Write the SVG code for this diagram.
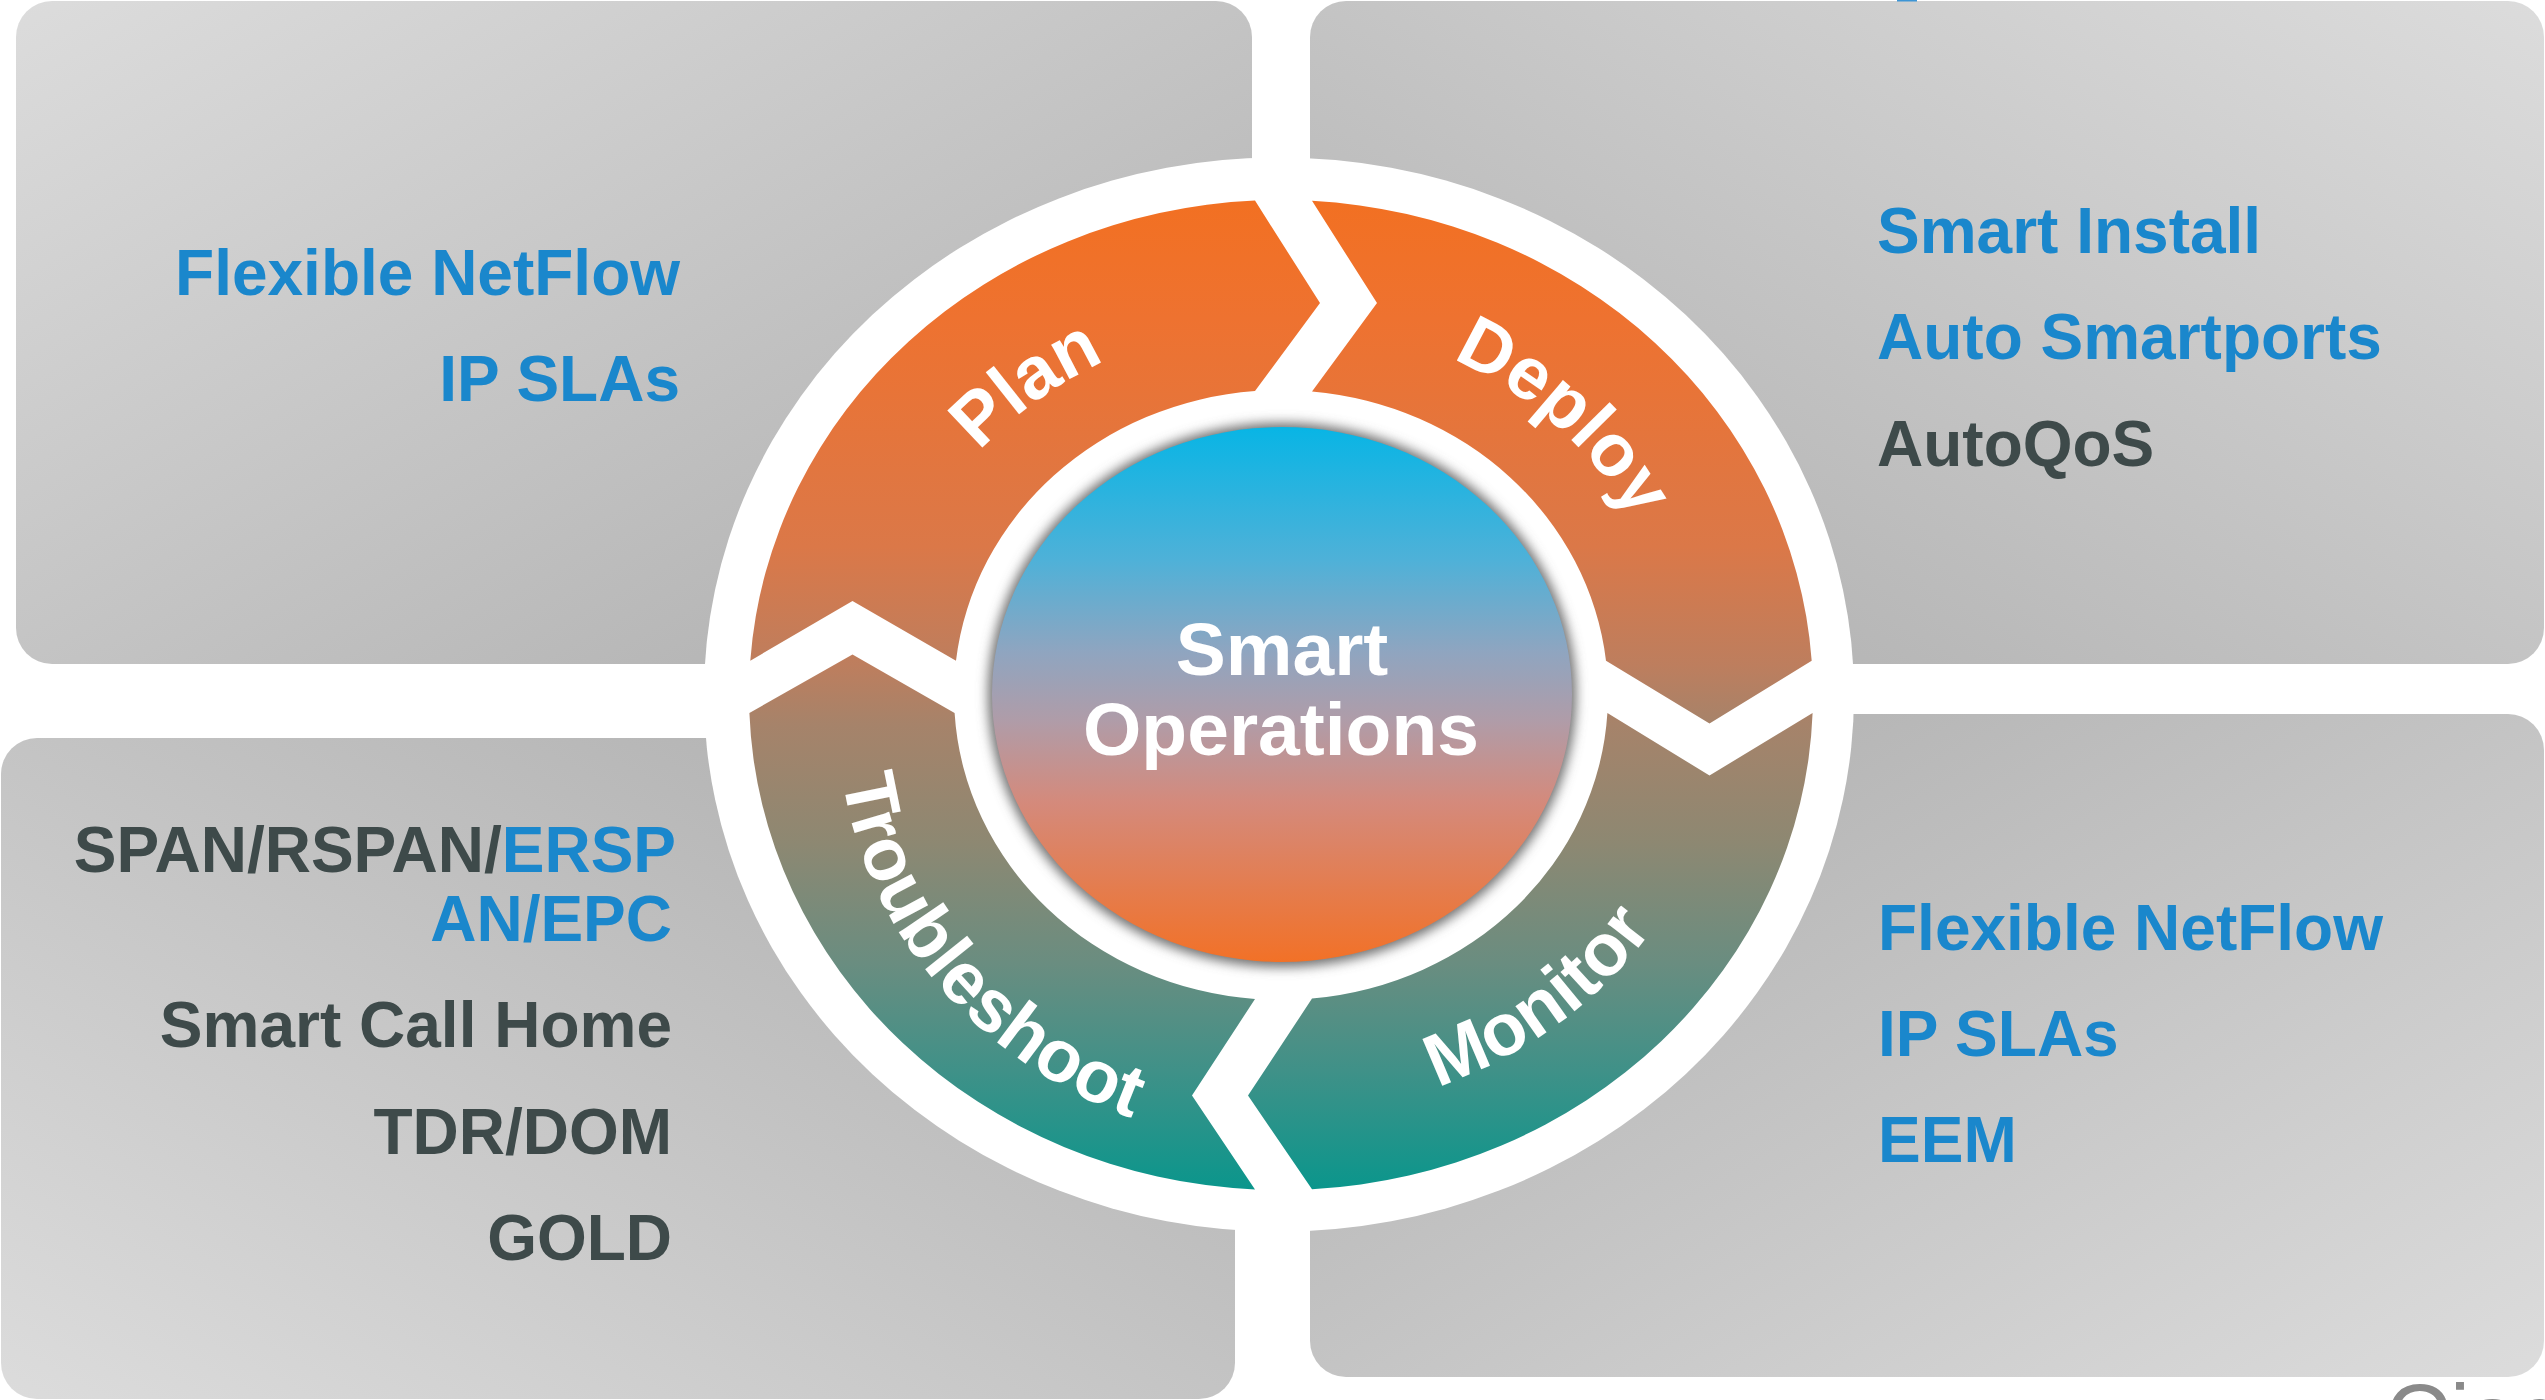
<svg xmlns="http://www.w3.org/2000/svg" width="2545" height="1400" viewBox="0 0 2545 1400">
  <style>
    .item { font-family: "Liberation Sans", Arial, sans-serif; font-weight: bold; font-size: 64px; }
    .blue { fill: #1a87cc; }
    .dark { fill: #3e4a4a; }
    .ring-label { font-family: "Liberation Sans", Arial, sans-serif; font-weight: bold; font-size: 74px; fill: #ffffff; }
    .hub-label { font-family: "Liberation Sans", Arial, sans-serif; font-weight: bold; font-size: 75px; fill: #ffffff; text-anchor: middle; }
  </style>
  <defs>
    <linearGradient id="panelTL" x1="0" y1="0" x2="1" y2="1">
      <stop offset="0" stop-color="#dcdcdc"/>
      <stop offset="1" stop-color="#acacac"/>
    </linearGradient>
    <linearGradient id="panelTR" x1="1" y1="0" x2="0" y2="1">
      <stop offset="0" stop-color="#dcdcdc"/>
      <stop offset="1" stop-color="#acacac"/>
    </linearGradient>
    <linearGradient id="panelBL" x1="0" y1="1" x2="1" y2="0">
      <stop offset="0" stop-color="#dcdcdc"/>
      <stop offset="1" stop-color="#acacac"/>
    </linearGradient>
    <linearGradient id="panelBR" x1="1" y1="1" x2="0" y2="0">
      <stop offset="0" stop-color="#dcdcdc"/>
      <stop offset="1" stop-color="#acacac"/>
    </linearGradient>
    <!-- ring colour runs from orange at the top to teal at the bottom -->
    <linearGradient id="ringFill" gradientUnits="userSpaceOnUse" x1="0" y1="200" x2="0" y2="1190">
      <stop offset="0" stop-color="#f27022"/>
      <stop offset="0.12" stop-color="#ee7230"/>
      <stop offset="0.35" stop-color="#db7848"/>
      <stop offset="0.47" stop-color="#bd7e5e"/>
      <stop offset="0.53" stop-color="#a6836a"/>
      <stop offset="0.65" stop-color="#8d8872"/>
      <stop offset="0.77" stop-color="#6a8d80"/>
      <stop offset="0.88" stop-color="#3f9188"/>
      <stop offset="1" stop-color="#0a968c"/>
    </linearGradient>
    <linearGradient id="hubFill" gradientUnits="userSpaceOnUse" x1="0" y1="427" x2="0" y2="962">
      <stop offset="0" stop-color="#08b5e5"/>
      <stop offset="0.25" stop-color="#4fb1d8"/>
      <stop offset="0.42" stop-color="#8fa5c0"/>
      <stop offset="0.55" stop-color="#b09ca8"/>
      <stop offset="0.7" stop-color="#d48a7c"/>
      <stop offset="1" stop-color="#f27127"/>
    </linearGradient>
    <filter id="hubShadow" x="-10%" y="-10%" width="120%" height="120%">
      <feGaussianBlur stdDeviation="6"/>
    </filter>
    <!-- baselines for the curved ring labels -->
    <path id="arcPlan" d="M 886.9 753.2 A 399 372 0 0 1 1424.0 347.7"/>
    <path id="arcDeploy" d="M 1177.7 335.7 A 399 372 0 0 1 1666.4 791.3"/>
    <path id="arcTroubleshoot" d="M 872.5 563.9 A 434.6 405 0 0 0 849.4 631.3 A 440 410 0 0 0 838.8 702.2 A 444.8 414.5 0 0 0 842 774.5 A 449.6 419 0 0 0 858.8 846.1 A 455 424 0 0 0 888.9 914.6 A 459.9 428.6 0 0 0 932 977.8 A 464.9 433.3 0 0 0 986.8 1033.6 A 470 438 0 0 0 1051.9 1080.3 A 475.3 443 0 0 0 1125.5 1115.9 A 480.3 447.6 0 0 0 1205.5 1139.5 A 485 452 0 0 0 1289.5 1149.6 A 490.4 457 0 0 0 1375.1 1146"/>
    <path id="arcMonitor" d="M 1123.9 1086.5 A 448.5 418 0 0 0 1723.4 626"/>
  </defs>

  <rect width="2545" height="1400" fill="#ffffff"/>

  <!-- quadrant panels -->
  <g id="panel-top-left">
    <rect x="16" y="1" width="1236" height="663" rx="36" fill="url(#panelTL)"/>
  </g>
  <g id="panel-top-right">
    <rect x="1310" y="1" width="1234" height="663" rx="36" fill="url(#panelTR)"/>
  </g>
  <g id="panel-bottom-left">
    <rect x="1" y="738" width="1234" height="661" rx="36" fill="url(#panelBL)"/>
  </g>
  <g id="panel-bottom-right">
    <rect x="1310" y="714" width="1234" height="663" rx="36" fill="url(#panelBR)"/>
  </g>

  <!-- white band around the cycle -->
  <ellipse cx="1279" cy="694.5" rx="575" ry="537" fill="#ffffff"/>

  <!-- cycle segments -->
  <g id="connectors"/>
  <g id="seg-plan">
    <path d="M 750.3 660.7 A 532 495 0 0 1 1255 200.6 L 1320 303 L 1255 391 A 327 305 0 0 0 956 660.7 L 852.5 601 Z" fill="url(#ringFill)"/>
    <text class="ring-label"><textPath href="#arcPlan" startOffset="50%" text-anchor="middle">Plan</textPath></text>
  </g>
  <g id="seg-deploy">
    <path d="M 1312 200.8 A 532 495 0 0 1 1811.7 660.7 L 1709.5 723.5 L 1606 660.7 A 327 305 0 0 0 1312 391.4 L 1377 303 Z" fill="url(#ringFill)"/>
    <text class="ring-label"><textPath href="#arcDeploy" startOffset="50%" text-anchor="middle">Deploy</textPath></text>
  </g>
  <g id="seg-monitor">
    <path d="M 1812.6 713 A 532 495 0 0 1 1312 1189.2 L 1248 1095.6 L 1312 998.6 A 327 305 0 0 0 1607.4 713 L 1709.5 775.5 Z" fill="url(#ringFill)"/>
    <text class="ring-label"><textPath href="#arcMonitor" startOffset="50%" text-anchor="middle">Monitor</textPath></text>
  </g>
  <g id="seg-troubleshoot">
    <path d="M 1255 1189.4 A 532 495 0 0 1 749.4 713 L 852.5 654.5 L 954.6 713 A 327 305 0 0 0 1255 999 L 1192 1095.6 Z" fill="url(#ringFill)"/>
    <text class="ring-label"><textPath href="#arcTroubleshoot" startOffset="48.5%" text-anchor="middle">Troubleshoot</textPath></text>
  </g>

  <!-- hub -->
  <g id="hub">
    <ellipse cx="1282" cy="695" rx="294" ry="272" fill="#6e6e6e" filter="url(#hubShadow)"/>
    <ellipse cx="1282" cy="694.5" rx="290" ry="267.5" fill="url(#hubFill)"/>
    <text class="hub-label" x="1282" y="675">Smart</text>
    <text class="hub-label" x="1281" y="755">Operations</text>
  </g>

  <!-- feature lists -->
  <g id="list-plan">
    <text class="item blue" text-anchor="end" x="680" y="295">Flexible NetFlow</text>
    <text class="item blue" text-anchor="end" x="680" y="401">IP SLAs</text>
  </g>
  <g id="list-deploy">
    <text class="item blue" x="1877" y="253">Smart Install</text>
    <text class="item blue" x="1877" y="359">Auto Smartports</text>
    <text class="item dark" x="1877" y="466">AutoQoS</text>
  </g>
  <g id="list-troubleshoot">
    <text class="item dark" text-anchor="end" x="676" y="872">SPAN/RSPAN/<tspan class="blue">ERSP</tspan></text>
    <text class="item blue" text-anchor="end" x="672" y="941">AN/EPC</text>
    <text class="item dark" text-anchor="end" x="672" y="1047">Smart Call Home</text>
    <text class="item dark" text-anchor="end" x="672" y="1154">TDR/DOM</text>
    <text class="item dark" text-anchor="end" x="672" y="1260">GOLD</text>
  </g>
  <g id="list-monitor">
    <text class="item blue" x="1878" y="950">Flexible NetFlow</text>
    <text class="item blue" x="1878" y="1056">IP SLAs</text>
    <text class="item blue" x="1878" y="1162">EEM</text>
  </g>

  <!-- edge fragments -->
  <rect x="1897" y="0" width="20" height="1.5" fill="#3d95d5"/>
  <text x="2385" y="1448" font-family="Liberation Sans, Arial, sans-serif" font-size="90" fill="#8a8a8a">Cisco</text>
</svg>
